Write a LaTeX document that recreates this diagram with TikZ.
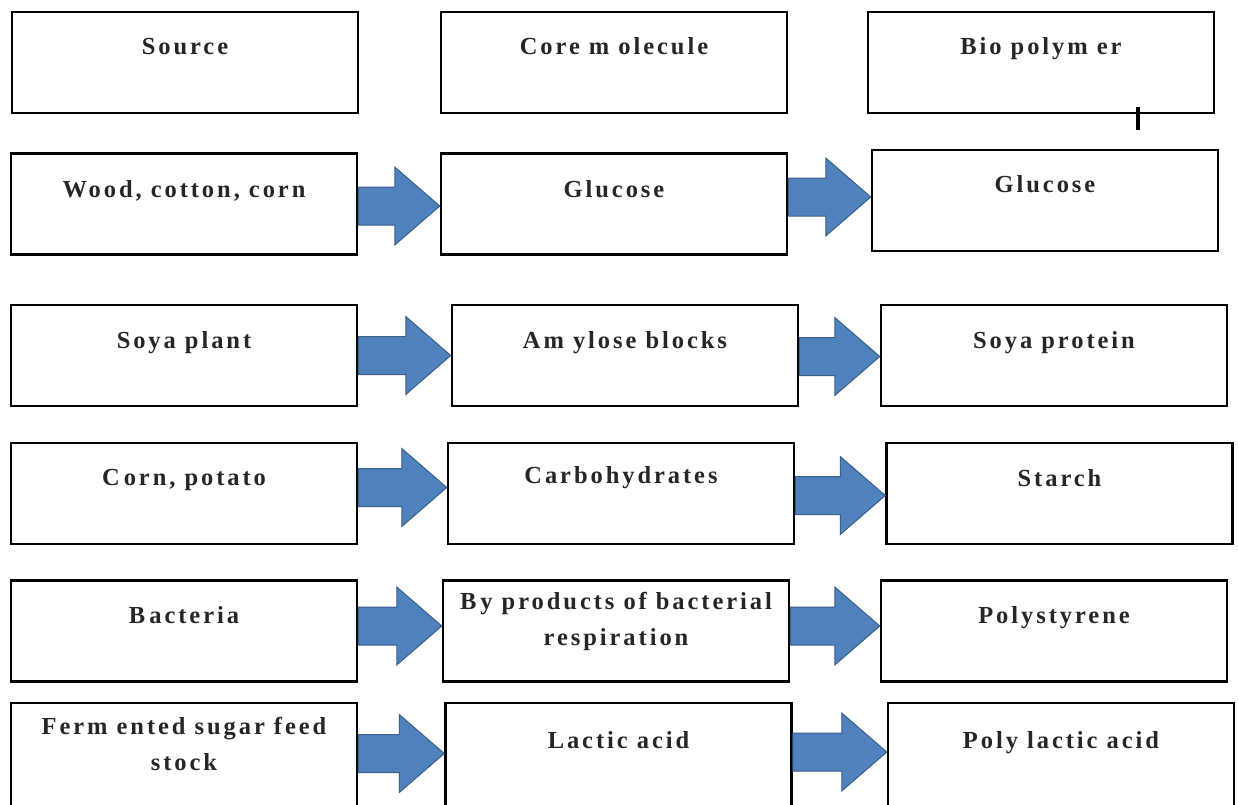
\documentclass[tikz,border=0pt]{standalone}
\usepackage{fontspec}
\newfontfamily\boxfont{Liberation Serif}[LetterSpace=12]
\usetikzlibrary{calc}
\definecolor{arrowblue}{HTML}{4F81BD}
\definecolor{arrowedge}{HTML}{3B5F8A}
\tikzset{
  stage/.style={draw, line width=2.5pt, minimum width=346pt, minimum height=101pt, inner sep=0pt},
  caption/.style={font=\boxfont\bfseries\fontsize{24.5}{36}\selectfont, text=black!85, align=center, anchor=base, inner sep=0pt},
  arrowbody/.style={fill=arrowblue, draw=arrowedge, line width=1pt, line join=miter},
  tick/.style={line width=4pt},
}
% block arrow from the east side of #1 to the west side of #2, raised by #3 pt
\newcommand{\flowarrow}[3]{%
  \filldraw[arrowbody] let \p1=(#1.east), \p2=(#2.west) in
    ({\x1},{\y1+(#3pt)+19pt}) -- ({\x2-45pt},{\y1+(#3pt)+19pt}) --
    ({\x2-45pt},{\y1+(#3pt)+39pt}) -- ({\x2},{\y1+(#3pt)}) --
    ({\x2-45pt},{\y1+(#3pt)-39pt}) -- ({\x2-45pt},{\y1+(#3pt)-19pt}) --
    ({\x1},{\y1+(#3pt)-19pt}) -- cycle;}
\begin{document}
\begin{tikzpicture}[x=1pt, y=-1pt]
  \useasboundingbox (0,0) rectangle (1238,804);
  % heading row
  \node[stage] (hsrc) at (185,62.5) {};
  \node[stage] (hcore) at (614,62.5) {};
  \node[stage] (hbio) at (1041,62.5) {};
  \node[caption] (hsrcT) at ([yshift=-44pt]hsrc.north) {Source};
  \node[caption] (hcoreT) at ([yshift=-44pt]hcore.north) {Core m olecule};
  \node[caption] (hbioT) at ([yshift=-44pt]hbio.north) {Bio polym er};
  \draw[tick] ([xshift=97pt,yshift=7pt]hbio.south) -- ++(0,23);
  % wood
  \node[stage] (wood) at (184,204) {};
  \node[stage] (gluA) at (614,204) {};
  \node[stage] (gluB) at (1045,200.5) {};
  \node[caption] (woodT) at ([yshift=-45pt]wood.north) {Wood, cotton, corn};
  \node[caption] (gluAT) at ([yshift=-45pt]gluA.north) {Glucose};
  \node[caption] (gluBT) at ([yshift=-44pt]gluB.north) {Glucose};
  \flowarrow{wood}{gluA}{-2}
  \flowarrow{gluA}{gluB}{7}
  % soya
  \node[stage] (soya) at (184,355.5) {};
  \node[stage] (amyl) at (625,355.5) {};
  \node[stage] (sprot) at (1054,355.5) {};
  \node[caption] (soyaT) at ([yshift=-45pt]soya.north) {Soya plant};
  \node[caption] (amylT) at ([yshift=-45pt]amyl.north) {Am ylose blocks};
  \node[caption] (sprotT) at ([yshift=-45pt]sprot.north) {Soya protein};
  \flowarrow{soya}{amyl}{0}
  \flowarrow{amyl}{sprot}{-1}
  % corn
  \node[stage] (corn) at (184,493.5) {};
  \node[stage] (carb) at (621,493.5) {};
  \node[stage] (starch) at (1059.5,493.5) {};
  \node[caption] (cornT) at ([yshift=-44pt]corn.north) {C\,orn, potato};
  \node[caption] (carbT) at ([yshift=-42pt]carb.north) {Carbohydrates};
  \node[caption] (starchT) at ([yshift=-45pt]starch.north) {Starch};
  \flowarrow{corn}{carb}{6}
  \flowarrow{carb}{starch}{-2}
  % bacteria
  \node[stage] (bact) at (184,631) {};
  \node[stage] (byprod) at (616,631) {};
  \node[stage] (polys) at (1054,631) {};
  \node[caption] (bactT) at ([yshift=-44pt]bact.north) {B\,acteria};
  \node[caption] (byprodT) at ([yshift=-66pt]byprod.north) {B\,y products of bacterial\\respiration};
  \node[caption] (polysT) at ([yshift=-44pt]polys.north) {Polystyrene};
  \flowarrow{bact}{byprod}{5}
  \flowarrow{byprod}{polys}{5}
  % fermentation
  \node[stage, minimum height=110pt] (ferm) at (184,758) {};
  \node[stage, minimum height=110pt] (lactic) at (618.5,758) {};
  \node[stage, minimum height=110pt] (pla) at (1061,758) {};
  \node[caption] (fermT) at ([yshift=-69pt]ferm.north) {Ferm ented sugar feed\\stock};
  \node[caption] (lacticT) at ([yshift=-47pt]lactic.north) {Lactic acid};
  \node[caption] (plaT) at ([yshift=-47pt]pla.north) {Poly lactic acid};
  \flowarrow{ferm}{lactic}{4.5}
  \flowarrow{lactic}{pla}{6}
\end{tikzpicture}
\end{document}
